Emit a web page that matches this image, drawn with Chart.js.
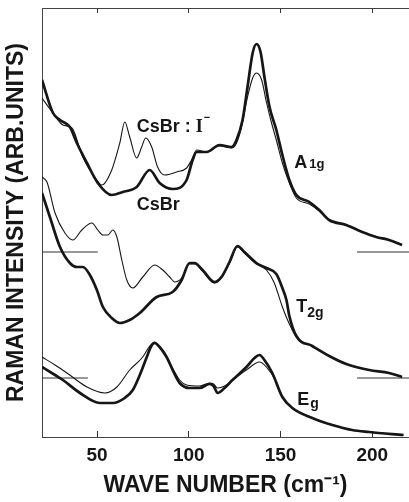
<!DOCTYPE html>
<html>
<head>
<meta charset="utf-8">
<script src="https://cdn.jsdelivr.net/npm/chart.js@4.4.1/dist/chart.umd.min.js"></script>
<style>
  body { margin: 0; background: #fff; }
  canvas { display: block; }
</style>
</head>
<body>
<canvas id="raman" width="409" height="502"></canvas>
<script>
// Raman spectra of CsBr (thick) and CsBr:I- (thin), offset per symmetry
const waveTicks = [50, 100, 150, 200];

// A1g
const a1gCsBrWn = [20, 26, 29.8, 35.2, 39, 44.5, 50.4, 58, 64, 71.6, 78.7, 84.1, 91.2, 98.8, 102.1, 104.3, 109.7, 116.7, 123.3, 126, 129.3, 132, 134.8, 136.9, 139.1, 141.3, 144, 147.7, 151, 154.8, 158.6, 165.7, 171.1, 176.5, 185.8, 194.5, 202.1, 209.1, 216.2];
const a1gCsBr = [357, 324, 317, 310, 294, 274, 254, 242, 245, 250, 267, 254, 248, 257, 277, 285, 285, 292, 290, 297, 317, 350, 384, 393, 385, 359, 330, 307, 282, 257, 242, 235, 227, 217, 212, 205, 200, 197, 192];
const a1gDopedWn = [20, 26, 31.4, 36.3, 42.2, 49.9, 52.6, 58, 62.4, 65.1, 67.8, 71.6, 74.3, 76.5, 79.8, 83, 86.8, 93.4, 98.8, 101.5, 104.3, 109.7, 116.7, 123.3, 126, 128.7, 132, 134.8, 136.9, 139.7, 142.4, 145.1, 147.7, 151, 154.8, 158.6, 165.7, 171.1, 176.5, 185.8, 194.5, 202.1, 209.1, 216.2];
const a1gDoped = [339, 324, 312, 309, 280, 257, 252, 267, 294, 315, 300, 279, 290, 299, 290, 270, 262, 265, 269, 277, 287, 285, 291, 289, 294, 310, 340, 359, 364, 357, 334, 314, 297, 274, 254, 239, 233, 226, 217, 212, 205, 200, 197, 192];

// T2g
const t2gCsBrWn = [20, 24.3, 29.8, 35.2, 39, 42.3, 46.1, 49.9, 53.2, 58, 62.4, 67.8, 73.3, 82.5, 91.2, 96.1, 100.4, 103.2, 107.5, 114, 117.8, 122.2, 126.5, 130.3, 136.8, 142.3, 147.7, 151, 153.2, 154.8, 158.6, 167.3, 176.5, 185.8, 198.3, 209.1, 216.2];
const t2gCsBr = [244, 220, 190, 174, 170, 170, 162, 147, 130, 119, 114, 117, 124, 140, 145, 157, 174, 174, 167, 155, 160, 175, 191, 185, 174, 169, 163, 149, 137, 121, 101, 91, 81, 73, 67, 64, 60];
const t2gDopedWn = [20, 22.7, 27.1, 32.5, 36.8, 41.7, 47.2, 50.4, 53.2, 55.9, 58.6, 60.8, 63.5, 66.2, 69.5, 74.9, 81.4, 85.8, 89.6, 92.3, 96.1, 100.4, 103.2, 107.5, 114, 117.8, 122.2, 126.5, 130.3, 136.8, 142.3, 146.6, 151, 154.8, 158.6, 167.3, 176.5, 185.8, 198.3, 209.1, 216.2];
const t2gDoped = [260, 255, 224, 204, 197, 207, 214, 207, 202, 202, 207, 200, 177, 157, 149, 160, 172, 167, 160, 155, 159, 173, 173, 166, 154, 159, 174, 190, 184, 173, 167, 154, 130, 113, 100, 91, 81, 73, 67, 64, 60];

// Eg
const egCsBrWn = [20, 27.1, 31.4, 40.7, 51.5, 58.6, 65.1, 69.5, 73.3, 77.1, 79.3, 81.4, 84.1, 87.9, 91.7, 95, 100.4, 105.9, 111.3, 113.5, 115.7, 119.5, 123.8, 131.4, 135.8, 138.5, 141.2, 145.5, 151, 156.4, 167.3, 178.2, 189, 198.3, 217];
const egCsBr = [70, 62, 57, 44, 34, 34, 39, 47, 62, 80, 90, 94, 90, 80, 65, 54, 49, 49, 53, 51, 44, 49, 57, 70, 79, 82, 77, 64, 40, 29, 19, 12, 7, 5, 2];
const egDopedWn = [20, 27.1, 33.6, 44.5, 54.3, 60.8, 67.8, 74.9, 78.7, 81.4, 84.1, 87.9, 91.7, 95, 98.8, 105.9, 111.3, 113.5, 115.7, 119.5, 123.8, 131.4, 138.5, 142.3, 147.7, 151, 156.4, 167.3, 178.2, 189, 198.3, 217];
const egDoped = [80, 72, 64, 50, 44, 50, 67, 80, 91, 95, 90, 80, 67, 57, 52, 51, 54, 53, 49, 51, 57, 67, 75, 70, 55, 40, 29, 19, 12, 7, 5, 2];

// zero-intensity reference marks (short lines at both ends)
const t2gZero = 185;
const egZero = 59;
const t2gZeroLeft = [20, 50.4];
const egZeroLeft = [20, 45];
const zeroRight = [191.7, 220];

const INK = '#161616';
const SANS = '"Liberation Sans", Arial, sans-serif';

function pts(xs, ys) {
  return xs.map((x, i) => ({ x: x, y: ys[i] }));
}

function curve(xs, ys, thick) {
  return {
    data: pts(xs, ys),
    borderColor: INK,
    borderWidth: thick ? 2.7 : 1.1,
    pointRadius: 0,
    cubicInterpolationMode: 'monotone',
    fill: false
  };
}

function zeroLine(xs, level) {
  return {
    data: xs.map(x => ({ x: x, y: level })),
    borderColor: '#333',
    borderWidth: 1,
    pointRadius: 0,
    fill: false
  };
}

// text labels, anchored in data units (left edge, baseline)
const labelPlugin = {
  id: 'labels',
  afterDatasetsDraw(chart) {
    const { ctx, scales: { x, y } } = chart;
    const runs = (wn, val, parts) => {
      let px = x.getPixelForValue(wn);
      const py = y.getPixelForValue(val);
      ctx.save();
      ctx.fillStyle = INK;
      ctx.textBaseline = 'alphabetic';
      ctx.textAlign = 'left';
      parts.forEach(p => {
        ctx.font = p.font;
        ctx.fillText(p.t, px + (p.dx || 0), py + (p.dy || 0));
        px += ctx.measureText(p.t).width + (p.dx || 0);
      });
      ctx.restore();
    };
    const big = 'bold 18px ' + SANS;
    const small = 'bold 13px ' + SANS;
    runs(71.6, 305, [
      { t: 'CsBr', font: big },
      { t: ' : ', font: big },
      { t: 'I', font: 'bold 18px "Liberation Serif", serif' },
      { t: '\u2212', font: 'bold 11px ' + SANS, dx: 1, dy: -11 }
    ]);
    runs(71.6, 227, [{ t: 'CsBr', font: big }]);
    runs(157.5, 269, [{ t: 'A', font: big }, { t: '1g', font: small, dx: 2 }]);
    runs(158.6, 125, [{ t: 'T', font: big }, { t: '2g', font: 'bold 14px ' + SANS, dy: 5 }]);
    runs(159.1, 32, [{ t: 'E', font: big }, { t: 'g', font: 'bold 14px ' + SANS, dx: 1, dy: 3 }]);
  }
};

const setTicks = s => { s.ticks = waveTicks.map(v => ({ value: v })); };

new Chart(document.getElementById('raman'), {
  type: 'line',
  data: {
    datasets: [
      curve(a1gCsBrWn, a1gCsBr, true),
      curve(a1gDopedWn, a1gDoped, false),
      curve(t2gCsBrWn, t2gCsBr, true),
      curve(t2gDopedWn, t2gDoped, false),
      curve(egCsBrWn, egCsBr, true),
      curve(egDopedWn, egDoped, false),
      zeroLine(t2gZeroLeft, t2gZero),
      zeroLine(zeroRight, t2gZero),
      zeroLine(egZeroLeft, egZero),
      zeroLine(zeroRight, egZero)
    ]
  },
  options: {
    responsive: false,
    animation: false,
    layout: { padding: 0 },
    plugins: { legend: { display: false }, tooltip: { enabled: false } },
    scales: {
      x: {
        type: 'linear',
        position: 'bottom',
        min: 20,
        max: 220,
        afterBuildTicks: setTicks,
        afterFit: s => { s.height = 65; },
        grid: { drawOnChartArea: false, tickLength: -6, color: '#333' },
        border: { display: true, color: '#444', width: 1 },
        ticks: {
          padding: 13,
          maxRotation: 0,
          color: INK,
          font: { family: SANS, size: 19, weight: 'bold' }
        },
        title: {
          display: true,
          text: 'WAVE NUMBER (cm\u207B\u00B9)',
          color: INK,
          font: { family: SANS, size: 23, weight: 'bold' },
          padding: { top: 0, bottom: 3 }
        }
      },
      xTop: {
        type: 'linear',
        position: 'top',
        min: 20,
        max: 220,
        afterBuildTicks: setTicks,
        afterFit: s => { s.height = 8; },
        grid: { drawOnChartArea: false, tickLength: -5, color: '#333' },
        border: { display: true, color: '#444', width: 1 },
        ticks: { display: false }
      },
      y: {
        min: 0,
        max: 429,
        afterFit: s => { s.width = 42; },
        grid: { drawOnChartArea: false, drawTicks: false },
        border: { display: true, color: '#444', width: 1 },
        ticks: { display: false },
        title: {
          display: true,
          text: 'RAMAN INTENSITY (ARB.UNITS)',
          color: INK,
          font: { family: SANS, size: 23, weight: 'bold' },
          padding: { top: 3, bottom: 0 }
        }
      }
    }
  },
  plugins: [labelPlugin]
});
</script>
</body>
</html>
